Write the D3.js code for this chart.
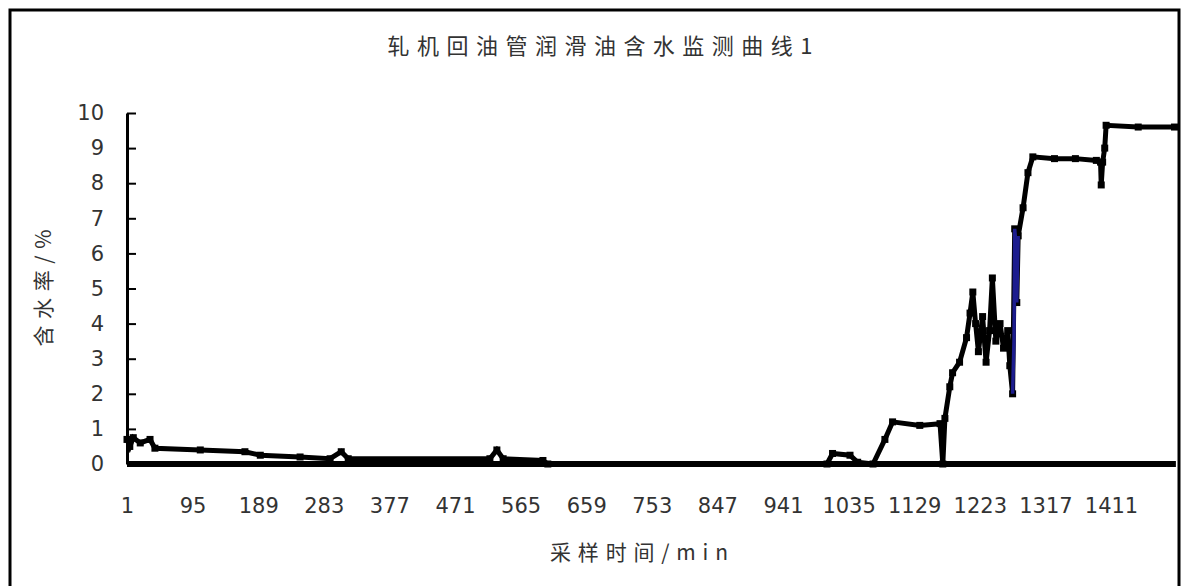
<!DOCTYPE html>
<html>
<head>
<meta charset="utf-8">
<script src="https://cdn.jsdelivr.net/npm/d3@7"></script>
<style>
  body { margin: 0; background: #fff; }
  svg { display: block; }
</style>
</head>
<body>
<svg id="chart" width="1182" height="586"></svg>
<script>
// sample number (min) and water content (%)
var sampleIdx = [1, 5, 10, 20, 34, 41, 106, 170, 192, 249, 292, 308, 318, 521, 531, 540, 597, 604,
  1004, 1012, 1037, 1048, 1070, 1087, 1098, 1137, 1166, 1170, 1173, 1180, 1184, 1194, 1204, 1209,
  1213, 1217, 1221, 1227, 1232, 1237, 1241, 1246, 1252, 1257, 1263, 1266, 1270, 1273, 1276, 1278,
  1285, 1292, 1299, 1330, 1360, 1390, 1396, 1397, 1399, 1402, 1404, 1450, 1502];
var waterPct = [0.7, 0.5, 0.75, 0.6, 0.7, 0.45, 0.4, 0.35, 0.25, 0.2, 0.15, 0.35, 0.15, 0.15, 0.4, 0.15, 0.1, 0,
  0, 0.3, 0.25, 0.05, 0, 0.7, 1.2, 1.1, 1.15, 0, 1.3, 2.2, 2.6, 2.9, 3.6, 4.3,
  4.9, 4.0, 3.2, 4.2, 2.9, 3.8, 5.3, 3.5, 4.0, 3.3, 3.8, 2.8, 2.0, 6.7, 4.6, 6.5,
  7.3, 8.3, 8.75, 8.7, 8.7, 8.65, 8.6, 7.95, 8.6, 9.0, 9.65, 9.6, 9.6];

// blue stretch of the curve
var blueIdx = [1270, 1272, 1273, 1275, 1276, 1278];
var bluePct = [2.0, 3.5, 6.7, 6.2, 4.6, 6.5];

// baseline series (all zero)
var zeroIdx = [1, 1504];
var zeroPct = [0, 0];

var xTicks = [1, 95, 189, 283, 377, 471, 565, 659, 753, 847, 941, 1035, 1129, 1223, 1317, 1411];
var yTicks = [0, 1, 2, 3, 4, 5, 6, 7, 8, 9, 10];

var title = "轧机回油管润滑油含水监测曲线1";
var xTitle = "采样时间/min";
var yTitle = "含水率/%";

var svg = d3.select("#chart");

// chart border
svg.append("rect")
  .attr("x", 10).attr("y", 10)
  .attr("width", 1169).attr("height", 600)
  .attr("fill", "none")
  .attr("stroke", "#000")
  .attr("stroke-width", 3);

var x = d3.scaleLinear().domain([1, 1507]).range([127, 1178]);
var y = d3.scaleLinear().domain([0, 10]).range([464, 113]);

// axes
var xAxis = svg.append("g")
  .attr("transform", "translate(0," + y(0) + ")")
  .call(d3.axisBottom(x).tickValues(xTicks).tickFormat(d3.format("d")).tickSize(0).tickPadding(34));
xAxis.select(".domain").remove();
xAxis.selectAll("text")
  .attr("font-family", "DejaVu Sans")
  .attr("font-size", 21)
  .attr("fill", "#333");

var yAxis = svg.append("g")
  .attr("transform", "translate(" + x(1) + ",0)")
  .call(d3.axisLeft(y).tickValues(yTicks).tickSizeInner(-9).tickSizeOuter(0).tickPadding(23));
yAxis.select(".domain").attr("stroke", "#000").attr("stroke-width", 3);
yAxis.selectAll(".tick line").attr("stroke", "#000").attr("stroke-width", 2);
yAxis.selectAll("text")
  .attr("font-family", "DejaVu Sans")
  .attr("font-size", 21)
  .attr("fill", "#333");

// series
var line = d3.line()
  .x(function (d) { return x(d[0]); })
  .y(function (d) { return y(d[1]); });

svg.append("path")
  .datum(d3.zip(zeroIdx, zeroPct))
  .attr("d", line)
  .attr("fill", "none")
  .attr("stroke", "#000")
  .attr("stroke-width", 6);

var main = d3.zip(sampleIdx, waterPct);

svg.append("path")
  .datum(main)
  .attr("d", line)
  .attr("fill", "none")
  .attr("stroke", "#000")
  .attr("stroke-width", 5)
  .attr("stroke-linejoin", "miter");

// square markers like the spreadsheet plot
svg.selectAll(".mark")
  .data(main)
  .enter()
  .append("rect")
  .attr("class", "mark")
  .attr("x", function (d) { return x(d[0]) - 3.5; })
  .attr("y", function (d) { return y(d[1]) - 3.5; })
  .attr("width", 7)
  .attr("height", 7)
  .attr("fill", "#000");

svg.append("path")
  .datum(d3.zip(blueIdx, bluePct))
  .attr("d", line)
  .attr("fill", "none")
  .attr("stroke", "#1c1c8e")
  .attr("stroke-width", 3.5);

// titles
svg.append("text")
  .attr("x", 600).attr("y", 54)
  .attr("text-anchor", "middle")
  .attr("font-family", "Noto Sans CJK SC")
  .attr("font-size", 22)
  .attr("fill", "#333")
  .attr("textLength", 425)
  .attr("lengthAdjust", "spacing")
  .text(title);

svg.append("text")
  .attr("x", 639).attr("y", 560)
  .attr("text-anchor", "middle")
  .attr("font-family", "Noto Sans CJK SC")
  .attr("font-size", 21)
  .attr("fill", "#333")
  .attr("textLength", 178)
  .attr("lengthAdjust", "spacing")
  .text(xTitle);

svg.append("text")
  .attr("transform", "translate(51,288) rotate(-90)")
  .attr("text-anchor", "middle")
  .attr("font-family", "Noto Sans CJK SC")
  .attr("font-size", 21)
  .attr("fill", "#333")
  .attr("textLength", 117)
  .attr("lengthAdjust", "spacing")
  .text(yTitle);
</script>
</body>
</html>
